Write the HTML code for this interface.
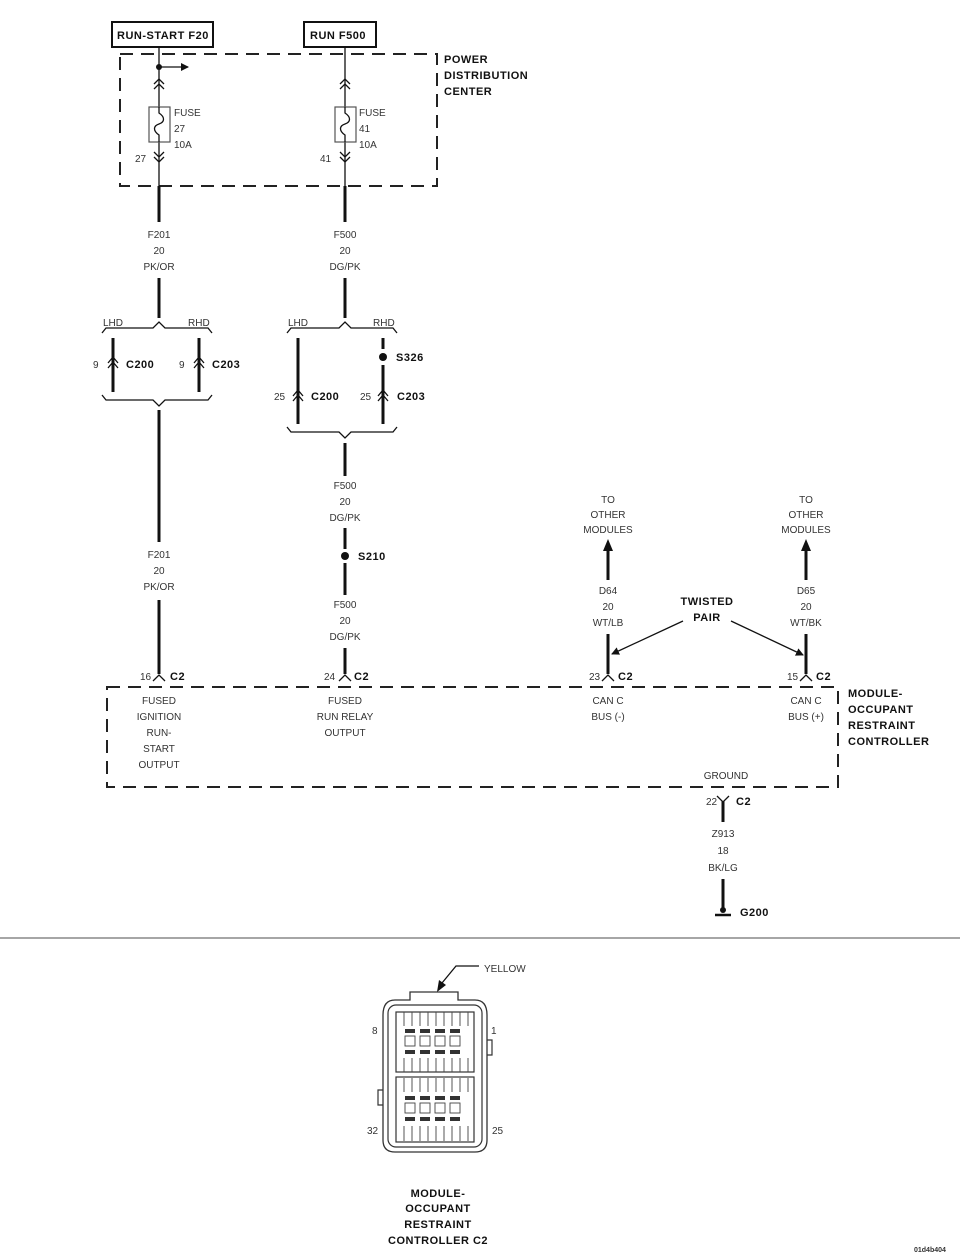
<!DOCTYPE html>
<html><head><meta charset="utf-8"><style>
html,body{margin:0;padding:0;background:#fff}
svg{display:block}
.t{font-family:"Liberation Sans",sans-serif;font-size:10px;fill:#333}
.b{font-family:"Liberation Sans",sans-serif;font-size:11px;font-weight:bold;fill:#111;letter-spacing:0.5px}
.w{stroke:#111;stroke-width:3;fill:none}
.n{stroke:#111;stroke-width:1.3;fill:none}
.d{stroke:#222;stroke-width:2;fill:none;stroke-dasharray:13,8}
</style></head><body>
<svg width="960" height="1257" viewBox="0 0 960 1257" xmlns="http://www.w3.org/2000/svg">
<defs>
<marker id="ah" markerWidth="8" markerHeight="8" refX="7" refY="4" orient="auto" markerUnits="userSpaceOnUse"><path d="M0,0 L8,4 L0,8 z" fill="#111"/></marker>
</defs>
<rect x="112" y="22" width="101" height="25" fill="none" stroke="#111" stroke-width="2"/>
<text class="b" x="117" y="39">RUN-START F20</text>
<rect x="304" y="22" width="72" height="25" fill="none" stroke="#111" stroke-width="2"/>
<text class="b" x="310" y="39">RUN F500</text>
<rect class="d" x="120" y="54" width="317" height="132"/>
<text class="b" x="444" y="63">POWER</text>
<text class="b" x="444" y="79">DISTRIBUTION</text>
<text class="b" x="444" y="95">CENTER</text>
<line class="n" x1="159" y1="47" x2="159" y2="186"/>
<circle cx="159" cy="67" r="3" fill="#111"/>
<line class="n" x1="159" y1="67" x2="188" y2="67" marker-end="url(#ah)"/>
<path class="n" d="M154,84 L159,79 L164,84 M154,89 L159,84 L164,89"/>
<rect x="149" y="107" width="21" height="35" fill="#fff" stroke="#555" stroke-width="1.2"/>
<path class="n" d="M159,107 L159,113 C165,117 165,122 159,124 C153,126 153,131 159,135 L159,142"/>
<path class="n" d="M154,152 L159,157 L164,152 M154,157 L159,162 L164,157"/>
<text class="t" x="174" y="116">FUSE</text><text class="t" x="174" y="132">27</text><text class="t" x="174" y="148">10A</text>
<text class="t" x="135" y="162">27</text>
<line class="n" x1="345" y1="47" x2="345" y2="186"/>
<path class="n" d="M340,84 L345,79 L350,84 M340,89 L345,84 L350,89"/>
<rect x="335" y="107" width="21" height="35" fill="#fff" stroke="#555" stroke-width="1.2"/>
<path class="n" d="M345,107 L345,113 C351,117 351,122 345,124 C339,126 339,131 345,135 L345,142"/>
<path class="n" d="M340,152 L345,157 L350,152 M340,157 L345,162 L350,157"/>
<text class="t" x="359" y="116">FUSE</text><text class="t" x="359" y="132">41</text><text class="t" x="359" y="148">10A</text>
<text class="t" x="320" y="162">41</text>
<line class="w" x1="159" y1="186" x2="159" y2="222"/>
<text class="t" x="159" y="238" text-anchor="middle">F201</text>
<text class="t" x="159" y="254" text-anchor="middle">20</text>
<text class="t" x="159" y="270" text-anchor="middle">PK/OR</text>
<line class="w" x1="159" y1="278" x2="159" y2="318"/>
<text class="t" x="103" y="326">LHD</text><text class="t" x="188" y="326">RHD</text>
<path class="n" d="M102,333 L106,328 L153,328 L159,322 L165,328 L208,328 L212,333"/>
<line class="w" x1="113" y1="338" x2="113" y2="392"/>
<line class="w" x1="199" y1="338" x2="199" y2="392"/>
<path class="n" d="M108,363 L113,357 L118,363 M108,368 L113,362 L118,368" stroke-width="1.5"/>
<path class="n" d="M194,363 L199,357 L204,363 M194,368 L199,362 L204,368" stroke-width="1.5"/>
<text class="t" x="93" y="368">9</text><text class="b" x="126" y="368">C200</text>
<text class="t" x="179" y="368">9</text><text class="b" x="212" y="368">C203</text>
<path class="n" d="M102,395 L106,400 L153,400 L159,406 L165,400 L208,400 L212,395"/>
<line class="w" x1="159" y1="410" x2="159" y2="542"/>
<text class="t" x="159" y="558" text-anchor="middle">F201</text>
<text class="t" x="159" y="574" text-anchor="middle">20</text>
<text class="t" x="159" y="590" text-anchor="middle">PK/OR</text>
<line class="w" x1="159" y1="600" x2="159" y2="674"/>
<path class="n" d="M153,681 L159,675 L165,681"/>
<text class="t" x="140" y="680">16</text><text class="b" x="170" y="680">C2</text>
<line class="w" x1="345" y1="186" x2="345" y2="222"/>
<text class="t" x="345" y="238" text-anchor="middle">F500</text>
<text class="t" x="345" y="254" text-anchor="middle">20</text>
<text class="t" x="345" y="270" text-anchor="middle">DG/PK</text>
<line class="w" x1="345" y1="278" x2="345" y2="318"/>
<text class="t" x="288" y="326">LHD</text><text class="t" x="373" y="326">RHD</text>
<path class="n" d="M287,333 L291,328 L339,328 L345,322 L351,328 L393,328 L397,333"/>
<line class="w" x1="298" y1="338" x2="298" y2="424"/>
<line class="w" x1="383" y1="338" x2="383" y2="349"/>
<circle cx="383" cy="357" r="4" fill="#111"/>
<text class="b" x="396" y="361">S326</text>
<line class="w" x1="383" y1="365" x2="383" y2="424"/>
<path class="n" d="M293,396 L298,390 L303,396 M293,401 L298,395 L303,401" stroke-width="1.5"/>
<path class="n" d="M378,396 L383,390 L388,396 M378,401 L383,395 L388,401" stroke-width="1.5"/>
<text class="t" x="274" y="400">25</text><text class="b" x="311" y="400">C200</text>
<text class="t" x="360" y="400">25</text><text class="b" x="397" y="400">C203</text>
<path class="n" d="M287,427 L291,432 L339,432 L345,438 L351,432 L393,432 L397,427"/>
<line class="w" x1="345" y1="443" x2="345" y2="476"/>
<text class="t" x="345" y="489" text-anchor="middle">F500</text>
<text class="t" x="345" y="505" text-anchor="middle">20</text>
<text class="t" x="345" y="521" text-anchor="middle">DG/PK</text>
<line class="w" x1="345" y1="528" x2="345" y2="549"/>
<circle cx="345" cy="556" r="4" fill="#111"/>
<text class="b" x="358" y="560">S210</text>
<line class="w" x1="345" y1="563" x2="345" y2="595"/>
<text class="t" x="345" y="608" text-anchor="middle">F500</text>
<text class="t" x="345" y="624" text-anchor="middle">20</text>
<text class="t" x="345" y="640" text-anchor="middle">DG/PK</text>
<line class="w" x1="345" y1="648" x2="345" y2="674"/>
<path class="n" d="M339,681 L345,675 L351,681"/>
<text class="t" x="324" y="680">24</text><text class="b" x="354" y="680">C2</text>
<text class="t" x="608" y="503" text-anchor="middle">TO</text>
<text class="t" x="608" y="518" text-anchor="middle">OTHER</text>
<text class="t" x="608" y="533" text-anchor="middle">MODULES</text>
<line class="w" x1="608" y1="548" x2="608" y2="580"/>
<path d="M603,551 L608,539 L613,551 z" fill="#111"/>
<text class="t" x="608" y="594" text-anchor="middle">D64</text>
<text class="t" x="608" y="610" text-anchor="middle">20</text>
<text class="t" x="608" y="626" text-anchor="middle">WT/LB</text>
<line class="w" x1="608" y1="634" x2="608" y2="674"/>
<path class="n" d="M602,681 L608,675 L614,681"/>
<text class="t" x="589" y="680">23</text><text class="b" x="618" y="680">C2</text>
<text class="t" x="806" y="503" text-anchor="middle">TO</text>
<text class="t" x="806" y="518" text-anchor="middle">OTHER</text>
<text class="t" x="806" y="533" text-anchor="middle">MODULES</text>
<line class="w" x1="806" y1="548" x2="806" y2="580"/>
<path d="M801,551 L806,539 L811,551 z" fill="#111"/>
<text class="t" x="806" y="594" text-anchor="middle">D65</text>
<text class="t" x="806" y="610" text-anchor="middle">20</text>
<text class="t" x="806" y="626" text-anchor="middle">WT/BK</text>
<line class="w" x1="806" y1="634" x2="806" y2="674"/>
<path class="n" d="M800,681 L806,675 L812,681"/>
<text class="t" x="787" y="680">15</text><text class="b" x="816" y="680">C2</text>
<text class="b" x="707" y="605" text-anchor="middle">TWISTED</text>
<text class="b" x="707" y="621" text-anchor="middle">PAIR</text>
<line class="n" x1="683" y1="621" x2="612" y2="654" marker-end="url(#ah)"/>
<line class="n" x1="731" y1="621" x2="803" y2="655" marker-end="url(#ah)"/>
<rect class="d" x="107" y="687" width="731" height="100"/>
<text class="b" x="848" y="697">MODULE-</text>
<text class="b" x="848" y="713">OCCUPANT</text>
<text class="b" x="848" y="729">RESTRAINT</text>
<text class="b" x="848" y="745">CONTROLLER</text>
<g class="t" text-anchor="middle">
<text x="159" y="704">FUSED</text><text x="159" y="720">IGNITION</text><text x="159" y="736">RUN-</text><text x="159" y="752">START</text><text x="159" y="768">OUTPUT</text>
<text x="345" y="704">FUSED</text><text x="345" y="720">RUN RELAY</text><text x="345" y="736">OUTPUT</text>
<text x="608" y="704">CAN C</text><text x="608" y="720">BUS (-)</text>
<text x="806" y="704">CAN C</text><text x="806" y="720">BUS (+)</text>
<text x="726" y="779">GROUND</text>
</g>
<path class="n" d="M717,796 L723,802 L729,796"/>
<line class="w" x1="723" y1="801" x2="723" y2="822"/>
<text class="t" x="706" y="805">22</text><text class="b" x="736" y="805">C2</text>
<text class="t" x="723" y="837" text-anchor="middle">Z913</text>
<text class="t" x="723" y="854" text-anchor="middle">18</text>
<text class="t" x="723" y="871" text-anchor="middle">BK/LG</text>
<line class="w" x1="723" y1="879" x2="723" y2="910"/>
<circle cx="723" cy="910" r="3" fill="#111"/>
<line x1="715" y1="915" x2="731" y2="915" stroke="#111" stroke-width="2.5"/>
<text class="b" x="740" y="916">G200</text>
<line x1="0" y1="938" x2="960" y2="938" stroke="#888" stroke-width="1.5"/>
<text class="t" x="484" y="972">YELLOW</text>
<path class="n" d="M479,966 L456,966 L442,983"/>
<path d="M437,992 L439,980 L446,985 z" fill="#111"/>
<path d="M410,1000 L410,992 L458,992 L458,1000 L475,1000 Q487,1000 487,1015 L487,1140 Q487,1152 475,1152 L395,1152 Q383,1152 383,1140 L383,1015 Q383,1000 395,1000 Z" fill="none" stroke="#333" stroke-width="1.3"/>
<rect x="388" y="1005" width="94" height="142" rx="8" fill="none" stroke="#333" stroke-width="1.2"/>
<rect x="396" y="1012" width="78" height="60" fill="none" stroke="#333" stroke-width="1.2"/>
<rect x="396" y="1077" width="78" height="65" fill="none" stroke="#333" stroke-width="1.2"/>
<path d="M487,1040 L492,1040 L492,1055 L487,1055 M383,1090 L378,1090 L378,1105 L383,1105" fill="none" stroke="#333" stroke-width="1.2"/>
<g fill="none" stroke="#444" stroke-width="0.9">
<path d="M404,1012v14M412,1012v14M420,1012v14M428,1012v14M436,1012v14M444,1012v14M452,1012v14M460,1012v14M468,1012v14"/>
<path d="M404,1058v14M412,1058v14M420,1058v14M428,1058v14M436,1058v14M444,1058v14M452,1058v14M460,1058v14M468,1058v14"/>
<path d="M404,1078v14M412,1078v14M420,1078v14M428,1078v14M436,1078v14M444,1078v14M452,1078v14M460,1078v14M468,1078v14"/>
<path d="M404,1126v15M412,1126v15M420,1126v15M428,1126v15M436,1126v15M444,1126v15M452,1126v15M460,1126v15M468,1126v15"/>
<rect x="405" y="1036" width="10" height="10"/><rect x="420" y="1036" width="10" height="10"/><rect x="435" y="1036" width="10" height="10"/><rect x="450" y="1036" width="10" height="10"/>
<rect x="405" y="1103" width="10" height="10"/><rect x="420" y="1103" width="10" height="10"/><rect x="435" y="1103" width="10" height="10"/><rect x="450" y="1103" width="10" height="10"/>
</g>
<g fill="#333">
<rect x="405" y="1029" width="10" height="4"/><rect x="420" y="1029" width="10" height="4"/><rect x="435" y="1029" width="10" height="4"/><rect x="450" y="1029" width="10" height="4"/>
<rect x="405" y="1050" width="10" height="4"/><rect x="420" y="1050" width="10" height="4"/><rect x="435" y="1050" width="10" height="4"/><rect x="450" y="1050" width="10" height="4"/>
<rect x="405" y="1096" width="10" height="4"/><rect x="420" y="1096" width="10" height="4"/><rect x="435" y="1096" width="10" height="4"/><rect x="450" y="1096" width="10" height="4"/>
<rect x="405" y="1117" width="10" height="4"/><rect x="420" y="1117" width="10" height="4"/><rect x="435" y="1117" width="10" height="4"/><rect x="450" y="1117" width="10" height="4"/>
</g>
<text class="t" x="372" y="1034">8</text><text class="t" x="491" y="1034">1</text>
<text class="t" x="367" y="1134">32</text><text class="t" x="492" y="1134">25</text>
<text class="b" x="438" y="1197" text-anchor="middle">MODULE-</text>
<text class="b" x="438" y="1212" text-anchor="middle">OCCUPANT</text>
<text class="b" x="438" y="1228" text-anchor="middle">RESTRAINT</text>
<text class="b" x="438" y="1244" text-anchor="middle">CONTROLLER C2</text>
<text x="914" y="1252" style="font-family:'Liberation Sans',sans-serif;font-size:7px;font-weight:bold;fill:#333">01d4b404</text>
</svg>
</body></html>
